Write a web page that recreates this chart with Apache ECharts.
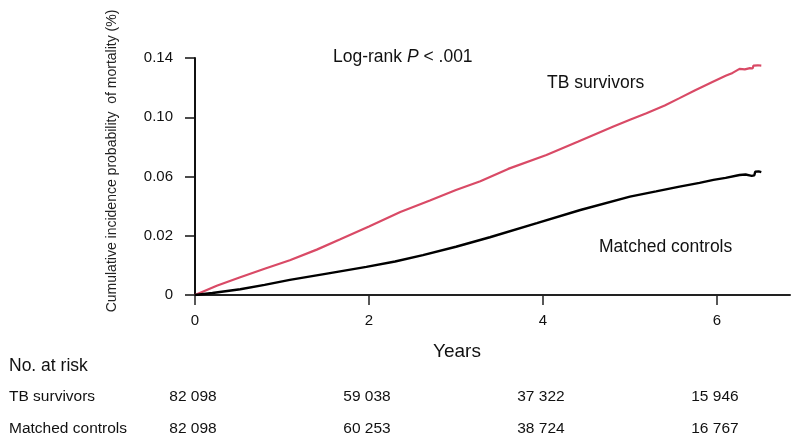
<!DOCTYPE html>
<html>
<head>
<meta charset="utf-8">
<script src="https://cdn.jsdelivr.net/npm/echarts@6/dist/echarts.min.js"></script>
<style>
html,body{margin:0;padding:0;background:#fff;}
#main{width:791px;height:437px;}
</style>
</head>
<body>
<div id="main"></div>
<script>
// ---- data ----
const tbSurvivors = [
  [0,0],[0.25,0.0055],[0.52,0.0105],[0.8,0.0155],[1.09,0.0205],[1.4,0.0268],[1.67,0.0329],
  [2.0,0.0405],[2.36,0.0490],[2.7,0.0558],[3.0,0.0620],[3.28,0.0672],[3.6,0.0745],[4.04,0.0827],
  [4.4,0.0905],[4.81,0.0995],[5.0,0.1035],[5.19,0.1074],[5.4,0.1120],[5.57,0.1163],[5.75,0.1210],
  [5.96,0.1261],[6.1,0.1295],[6.18,0.1312],[6.26,0.1336],[6.32,0.1333],[6.38,0.1340],[6.41,0.1338],
  [6.42,0.1355],[6.47,0.1357],[6.51,0.1355]
];
const matchedControls = [
  [0,0],[0.2,0.0012],[0.52,0.0034],[0.8,0.0060],[1.09,0.0089],[1.5,0.0125],[1.97,0.0166],
  [2.3,0.0198],[2.62,0.0236],[3.0,0.0285],[3.39,0.0341],[3.93,0.0424],[4.43,0.0502],[5.0,0.0581],
  [5.3,0.0612],[5.57,0.0640],[5.8,0.0662],[5.96,0.0680],[6.1,0.0692],[6.26,0.0709],[6.33,0.0712],
  [6.40,0.0704],[6.43,0.0707],[6.44,0.0728],[6.48,0.0730],[6.51,0.0726]
];
const xTicks = [0, 2, 4, 6];
const yTickValues = [0, 0.035, 0.07, 0.105, 0.14];
const yTickLabels = ['0', '0.02', '0.06', '0.10', '0.14'];
const riskGroups = ['TB survivors', 'Matched controls'];
const riskTB = ['82 098', '59 038', '37 322', '15 946'];
const riskMC = ['82 098', '60 253', '38 724', '16 767'];

const FONT = '"Liberation Sans", Arial, sans-serif';
const chart = echarts.init(document.getElementById('main'), null, {renderer: 'canvas'});

const option = {
  animation: false,
  backgroundColor: '#fff',
  grid: {left: 195, right: 1, top: 58, bottom: 142, containLabel: false},
  xAxis: {
    type: 'value', min: 0, max: 6.84, interval: 2,
    axisLine: {show: true, lineStyle: {color: '#222', width: 2}},
    axisTick: {show: true, length: 10, lineStyle: {color: '#222', width: 1.5}, customValues: xTicks},
    axisLabel: {show: true, customValues: xTicks, margin: 18, fontSize: 15, color: '#111', fontFamily: FONT},
    splitLine: {show: false}
  },
  yAxis: {
    type: 'value', min: 0, max: 0.14, interval: 0.035,
    axisLine: {show: true, lineStyle: {color: '#111', width: 2}},
    axisTick: {show: true, length: 10, lineStyle: {color: '#111', width: 1.5}, customValues: yTickValues},
    axisLabel: {
      show: true, customValues: yTickValues, margin: 22, fontSize: 15, color: '#111', fontFamily: FONT,
      formatter: function (v) { return yTickLabels[Math.round(v / 0.035)]; }
    },
    splitLine: {show: false}
  },
  series: [
    {name: 'TB survivors', type: 'line', data: tbSurvivors, showSymbol: false, symbol: 'none',
     lineStyle: {color: '#d94a66', width: 2.2}, z: 3},
    {name: 'Matched controls', type: 'line', data: matchedControls, showSymbol: false, symbol: 'none',
     lineStyle: {color: '#000', width: 2.4}, z: 4}
  ]
};
chart.setOption(option);

const rowY = [397, 429];
const graphics = [
  {type: 'text', x: 112, y: 161, rotation: Math.PI / 2,
   style: {text: 'Cumulative incidence probability  of mortality (%)', font: '14px ' + FONT, fill: '#222',
           align: 'center', verticalAlign: 'middle'}},
  {type: 'text', x: 333, y: 57,
   style: {text: '{a|Log-rank }{b|P}{a| < .001}', align: 'left', verticalAlign: 'middle',
           rich: {a: {font: '17.5px ' + FONT, fill: '#111'}, b: {font: 'italic 17.5px ' + FONT, fill: '#111'}}}},
  {type: 'text', x: 547, y: 83,
   style: {text: 'TB survivors', font: '17.5px ' + FONT, fill: '#111', align: 'left', verticalAlign: 'middle'}},
  {type: 'text', x: 599, y: 247,
   style: {text: 'Matched controls', font: '17.5px ' + FONT, fill: '#111', align: 'left', verticalAlign: 'middle'}},
  {type: 'text', x: 457, y: 352,
   style: {text: 'Years', font: '19px ' + FONT, fill: '#111', align: 'center', verticalAlign: 'middle'}},
  {type: 'text', x: 9, y: 366,
   style: {text: 'No. at risk', font: '17.5px ' + FONT, fill: '#111', align: 'left', verticalAlign: 'middle'}}
];
riskGroups.forEach(function (g, i) {
  graphics.push({type: 'text', x: 9, y: rowY[i],
    style: {text: g, font: '15.5px ' + FONT, fill: '#111', align: 'left', verticalAlign: 'middle'}});
});
[riskTB, riskMC].forEach(function (row, i) {
  row.forEach(function (txt, j) {
    const px = chart.convertToPixel({xAxisIndex: 0}, xTicks[j]);
    graphics.push({type: 'text', x: px - 2, y: rowY[i],
      style: {text: txt, font: '15.5px ' + FONT, fill: '#111', align: 'center', verticalAlign: 'middle'}});
  });
});
chart.setOption({graphic: graphics});
</script>
</body>
</html>
